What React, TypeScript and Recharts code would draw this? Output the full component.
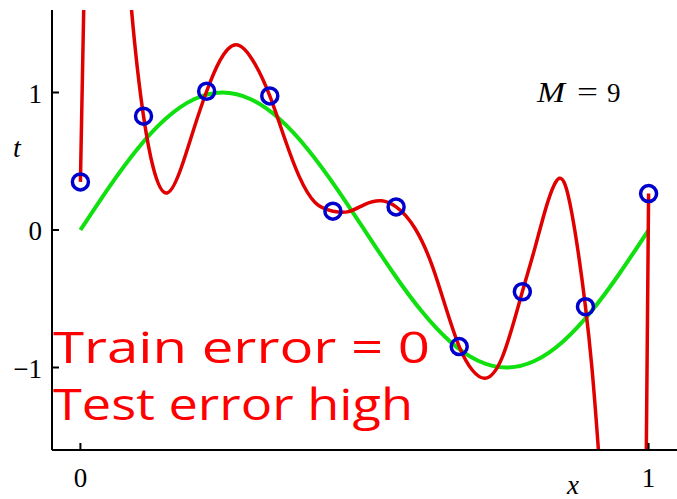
import React from 'react';
import { ComposedChart, Line, Scatter, XAxis, YAxis } from 'recharts';

// Training points (x, t)
const pointX = [0, 0.1111, 0.2222, 0.3333, 0.4444, 0.5556, 0.6667, 0.7778, 0.8889, 1.0];
const pointT = [0.35, 0.828, 1.009, 0.975, 0.137, 0.168, -0.848, -0.449, -0.558, 0.265];

// Green curve (true function)
const greenX = [0, 0.05, 0.1, 0.15, 0.2, 0.25, 0.3, 0.35, 0.4, 0.45, 0.5, 0.55, 0.6, 0.65, 0.7, 0.75, 0.8, 0.85, 0.9, 0.95, 1.0];
const greenY = [0, 0.309, 0.588, 0.809, 0.951, 1.0, 0.951, 0.809, 0.588, 0.309, 0, -0.309, -0.588, -0.809, -0.951, -1.0, -0.951, -0.809, -0.588, -0.309, 0];

// Red curve (M = 9 fit)
const redX = [0, 0.0058, 0.015, 0.03, 0.045, 0.06, 0.075, 0.09,
  0.1111, 0.1279, 0.1526, 0.1779, 0.2, 0.2222, 0.2455, 0.2736,
  0.3071, 0.3333, 0.36, 0.385, 0.413, 0.4444, 0.47, 0.5,
  0.53, 0.5556, 0.589, 0.62, 0.6667, 0.69, 0.712, 0.742,
  0.7778, 0.8, 0.82, 0.833, 0.843, 0.853, 0.865, 0.8771,
  0.8889, 0.9, 0.9117, 0.925, 0.94, 0.955, 0.97, 0.98,
  0.99, 0.996, 1.0];
const redY = [0.35, 1.6, 3.15, 4.3, 4.05, 3.3, 2.4, 1.6,
  0.828, 0.458, 0.269, 0.458, 0.74, 1.009, 1.232, 1.348,
  1.208, 0.975, 0.66, 0.39, 0.2, 0.137, 0.132, 0.185,
  0.212, 0.168, 0.011, -0.27, -0.848, -1.02, -1.078, -0.93,
  -0.449, -0.13, 0.17, 0.32, 0.376, 0.33, 0.12, -0.19,
  -0.558, -0.99, -1.6, -2.4, -3.3, -3.9, -4.0, -3.7,
  -2.9, -1.6, 0.265];

const xTicks = [0, 1];
const yTicks = [-1, 0, 1];
const modelLabel = ['M', '=', '9'];
const noteLines = ['Train error = 0', 'Test error high'];

const points = pointX.map((x, i) => ({ x, y: pointT[i] }));
const green = greenX.map((x, i) => ({ x, y: greenY[i] }));
const red = redX.map((x, i) => ({ x, y: redY[i] }));

// Natural cubic spline of y as a function of x (rendering curve, like d3 curves)
function naturalXCurve(context: any) {
  let xs: number[] = [];
  let ys: number[] = [];
  return {
    areaStart() {},
    areaEnd() {},
    lineStart() { xs = []; ys = []; },
    point(x: number, y: number) { xs.push(+x); ys.push(+y); },
    lineEnd() {
      const n = xs.length;
      if (n === 0) return;
      context.moveTo(xs[0], ys[0]);
      if (n === 1) return;
      if (n === 2) { context.lineTo(xs[1], ys[1]); return; }
      const h: number[] = [];
      for (let i = 0; i < n - 1; i++) h.push(xs[i + 1] - xs[i]);
      const M = new Array(n).fill(0);
      const m = n - 2;
      const a = new Array(m).fill(0), b = new Array(m).fill(0), c = new Array(m).fill(0), d = new Array(m).fill(0);
      for (let k = 0; k < m; k++) {
        const i = k + 1;
        a[k] = h[i - 1];
        b[k] = 2 * (h[i - 1] + h[i]);
        c[k] = h[i];
        d[k] = 6 * ((ys[i + 1] - ys[i]) / h[i] - (ys[i] - ys[i - 1]) / h[i - 1]);
      }
      for (let k = 1; k < m; k++) {
        const w = a[k] / b[k - 1];
        b[k] -= w * c[k - 1];
        d[k] -= w * d[k - 1];
      }
      const sol = new Array(m).fill(0);
      sol[m - 1] = d[m - 1] / b[m - 1];
      for (let k = m - 2; k >= 0; k--) sol[k] = (d[k] - c[k] * sol[k + 1]) / b[k];
      for (let k = 0; k < m; k++) M[k + 1] = sol[k];
      for (let i = 0; i < n - 1; i++) {
        const hi = h[i];
        const s = (ys[i + 1] - ys[i]) / hi;
        const d0 = s - hi * (2 * M[i] + M[i + 1]) / 6;
        const d1 = s + hi * (M[i] + 2 * M[i + 1]) / 6;
        context.bezierCurveTo(
          xs[i] + hi / 3, ys[i] + d0 * hi / 3,
          xs[i + 1] - hi / 3, ys[i + 1] - d1 * hi / 3,
          xs[i + 1], ys[i + 1]
        );
      }
    },
  };
}

const serif = '"Liberation Serif", "DejaVu Serif", serif';
const fmt = (v: number) => String(v).replace('-', '\u2212');

const BottomTick = (p: any) => (
  <g>
    <line x1={p.x} y1={p.y} x2={p.x} y2={p.y - 7} stroke="#000" strokeWidth={2} />
    <text x={p.x} y={p.y + 37} textAnchor="middle" fontFamily={serif} fontSize={27} fill="#000">{fmt(p.payload.value)}</text>
  </g>
);
const TopTick = (p: any) => (
  <line x1={p.x} y1={p.y} x2={p.x} y2={p.y + 7} stroke="#000" strokeWidth={2} />
);
const LeftTick = (p: any) => (
  <g>
    <line x1={p.x} y1={p.y} x2={p.x + 7} y2={p.y} stroke="#000" strokeWidth={2} />
    <text x={p.x - 10} y={p.y + 10} textAnchor="end" fontFamily={serif} fontSize={27} fill="#000">{fmt(p.payload.value)}</text>
  </g>
);
const RightTick = (p: any) => (
  <line x1={p.x} y1={p.y} x2={p.x - 8} y2={p.y} stroke="#000" strokeWidth={2} />
);

const Ring = (p: any) => (
  <circle cx={p.cx} cy={p.cy} r={8} fill="none" stroke="#0000cc" strokeWidth={3.5} />
);

export default function App() {
  return (
    <div style={{ position: 'absolute', left: 0, top: 0, width: 677, height: 499, background: '#fff' }}>
      <ComposedChart width={677} height={499} margin={{ top: 10, right: 0, bottom: 0, left: 0 }}>
        <XAxis xAxisId="b" dataKey="x" type="number" domain={[-0.05, 1.05]} ticks={xTicks} allowDataOverflow
          height={49} tickSize={0} tickMargin={0} tickLine={false} tick={BottomTick}
          axisLine={{ stroke: '#000', strokeWidth: 2 }} interval={0} />
        <XAxis xAxisId="t" dataKey="x" type="number" orientation="top" domain={[-0.05, 1.05]} ticks={xTicks} allowDataOverflow
          height={0} tickSize={0} tickMargin={0} tickLine={false} tick={TopTick}
          axisLine={{ stroke: '#000', strokeWidth: 2 }} interval={0} />
        <YAxis yAxisId="l" type="number" domain={[-1.6, 1.6]} ticks={yTicks} allowDataOverflow
          width={52} tickSize={0} tickMargin={0} tickLine={false} tick={LeftTick}
          axisLine={{ stroke: '#000', strokeWidth: 2 }} interval={0} />
        <YAxis yAxisId="r" type="number" orientation="right" domain={[-1.6, 1.6]} ticks={yTicks} allowDataOverflow
          width={0} tickSize={0} tickMargin={0} tickLine={false} tick={RightTick}
          axisLine={false} interval={0} />
        <Line xAxisId="b" yAxisId="l" data={green} dataKey="y" type="natural" stroke="#10e010" strokeWidth={4}
          dot={false} activeDot={false} isAnimationActive={false} />
        <Scatter xAxisId="b" yAxisId="l" data={points} dataKey="y" shape={Ring} isAnimationActive={false} />
        <Line xAxisId="b" yAxisId="l" data={red} dataKey="y" type={naturalXCurve as any} stroke="#e00000" strokeWidth={3.5}
          dot={false} activeDot={false} isAnimationActive={false} />
        <text x={17} y={157} textAnchor="middle" fontFamily={serif} fontStyle="italic" fontSize={28} fill="#000">t</text>
        <text x={573} y={494} textAnchor="middle" fontFamily={serif} fontStyle="italic" fontSize={27} fill="#000">x</text>
        <text x={537} y={102} fontFamily={serif} fontStyle="italic" fontSize={30} fill="#000"
          textLength={28} lengthAdjust="spacingAndGlyphs">{modelLabel[0]}</text>
        <text x={577} y={101} fontFamily={serif} fontSize={27} fill="#000"
          textLength={21} lengthAdjust="spacingAndGlyphs">{modelLabel[1]}</text>
        <text x={607} y={102} fontFamily={serif} fontSize={27} fill="#000">{modelLabel[2]}</text>
        <text x={53} y={363} fontFamily='"Open Sans", "DejaVu Sans", sans-serif' fontSize={44} fill="#ff0000"
          textLength={377} lengthAdjust="spacingAndGlyphs">{noteLines[0]}</text>
        <text x={53} y={420} fontFamily='"Open Sans", "DejaVu Sans", sans-serif' fontSize={44} fill="#ff0000"
          textLength={360} lengthAdjust="spacingAndGlyphs">{noteLines[1]}</text>
      </ComposedChart>
    </div>
  );
}
